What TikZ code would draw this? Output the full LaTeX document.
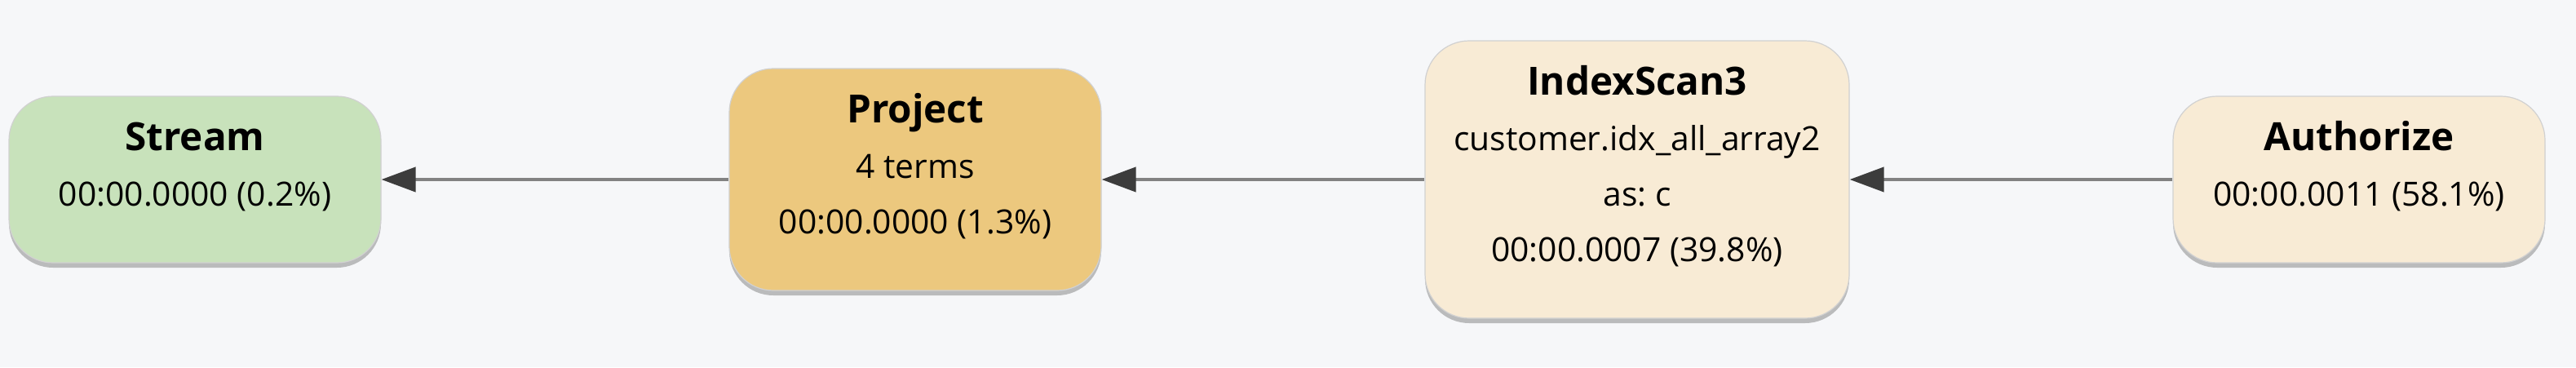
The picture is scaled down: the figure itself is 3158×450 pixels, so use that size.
\documentclass[tikz,border=0pt]{standalone}
\usepackage{fontspec}
\setmainfont{Open Sans}
\usetikzlibrary{arrows.meta, positioning, shadows}

\definecolor{bgcol}{HTML}{F6F7F9}
\definecolor{streamcol}{HTML}{C8E2BB}
\definecolor{projectcol}{HTML}{ECC87E}
\definecolor{scancol}{HTML}{F8EBD5}
\definecolor{linecol}{HTML}{828282}
\definecolor{tipcol}{HTML}{3C3C3C}

\tikzset{
	opbox/.style={rounded corners=27pt, minimum width=228pt, draw=black!18, line width=0.6pt,
		drop shadow={shadow xshift=0pt, shadow yshift=-3pt, opacity=0.35, fill=black!70}},
	optext/.style={align=center, inner sep=0pt, font=\fontsize{20.4}{34}\selectfont\frenchspacing},
	flow/.style={<-, draw=linecol, line width=2pt}
}
\newcommand{\optitle}[1]{{\fontsize{23.8}{34}\selectfont\bfseries #1}}

\begin{document}
\begin{tikzpicture}[>={Triangle[length=21pt, width=15pt, color=tipcol]},
			x=0.5pt,
			y=-0.5pt]
			
			\fill[bgcol] (0,0) rectangle (3158,450);
			\useasboundingbox (0,0) rectangle (3158,450);
			
			% operator boxes
			\node[opbox, fill=streamcol, minimum height=102pt] (stream) at (239,220) {};
			\node[opbox, fill=projectcol, minimum height=136pt] (project) at (1122,220) {};
			\node[opbox, fill=scancol, minimum height=170pt, minimum width=260pt] (scan) at (2007,220) {};
			\node[opbox, fill=scancol, minimum height=102pt] (auth) at (2892,220) {};
			
			% box texts
			\node[optext] (stream txt) at ([yshift=8pt]stream.center) {\optitle{Stream}\\ 00:00.0000 (0.2\%)};
			\node[optext] (project txt) at ([yshift=8pt]project.center) {\optitle{Project}\\ 4 terms\\ 00:00.0000 (1.3\%)};
			\node[optext] (scan txt) at ([yshift=8pt]scan.center) {\optitle{IndexScan3}\\ customer.idx\_all\_array2\\ as: c\\ 00:00.0007 (39.8\%)};
			\node[optext] (auth txt) at ([yshift=8pt]auth.center) {\optitle{Authorize}\\ 00:00.0011 (58.1\%)};
			
			% data flow
			\draw[flow] (stream.east) -- (project.west);
			\draw[flow] (project.east) -- (scan.west);
			\draw[flow] (scan.east) -- (auth.west);
		\end{tikzpicture}
\end{document}
